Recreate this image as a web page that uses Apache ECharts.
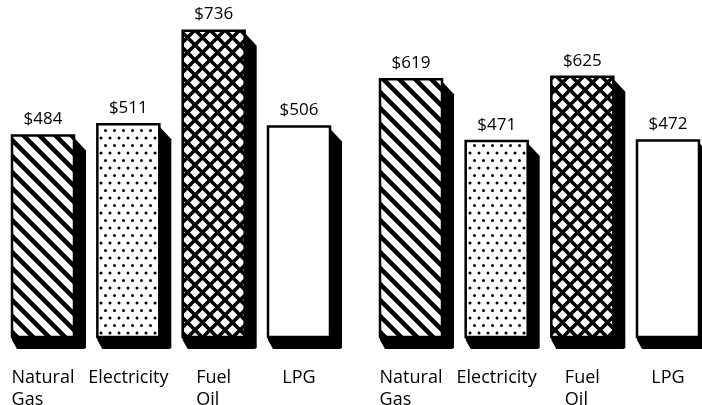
<!DOCTYPE html>
<html>
<head>
<meta charset="utf-8">
<script src="https://cdn.jsdelivr.net/npm/echarts@6/dist/echarts.min.js"></script>
<style>
  html, body { margin: 0; padding: 0; background: #fff; }
  #chart { width: 702px; height: 405px; }
</style>
</head>
<body>
<div id="chart"></div>
<script>
// Heating cost per fuel type, two panels side by side
const fuels = ['Natural\nGas', 'Electricity', 'Fuel\nOil', 'LPG'];
const costsLeft = [484, 511, 736, 506];
const costsRight = [619, 471, 625, 472];

const FONT = '"Open Sans", "DejaVu Sans", sans-serif';

// Tiled fills for the bar faces
function makeTile(w, h, draw) {
  const c = document.createElement('canvas');
  c.width = w; c.height = h;
  const ctx = c.getContext('2d');
  ctx.fillStyle = '#fff';
  ctx.fillRect(0, 0, w, h);
  ctx.fillStyle = '#000';
  ctx.strokeStyle = '#000';
  draw(ctx, w, h);
  return { image: c, repeat: 'repeat' };
}
// diagonal strokes, extended past the tile so the edges join seamlessly
function diag(ctx, s, back, fwd) {
  for (const o of [-s, 0, s]) {
    if (back) { ctx.moveTo(o - s, -s); ctx.lineTo(o + 2 * s, 2 * s); }
    if (fwd) { ctx.moveTo(o + 2 * s, -s); ctx.lineTo(o - s, 2 * s); }
  }
}
const hatch = makeTile(16, 16, (ctx, w) => {
  ctx.lineWidth = 4.6;
  ctx.beginPath(); diag(ctx, w, true, false); ctx.stroke();
});
const dots = makeTile(9, 15, (ctx) => {
  for (const [x, y] of [[2, 3], [6.5, 10.5]]) {
    ctx.beginPath(); ctx.arc(x, y, 1.5, 0, Math.PI * 2); ctx.fill();
  }
});
const cross = makeTile(15, 15, (ctx, w) => {
  ctx.lineWidth = 3.6;
  ctx.beginPath(); diag(ctx, w, true, true); ctx.stroke();
});
const faceFills = [hatch, dots, cross, '#fff'];

const FACE_W = 62;   // width of the front face
const DEPTH_X = 12;  // extrusion to the right
const DEPTH_Y = 12;  // extrusion downward

function renderBar(params, api) {
  const idx = api.value(0);
  const val = api.value(1);
  const topPt = api.coord([idx, val]);
  const basePt = api.coord([idx, 0]);
  const cx = topPt[0];
  const L = cx - FACE_W / 2, R = cx + FACE_W / 2;
  const T = topPt[1], B = basePt[1];
  return {
    type: 'group',
    children: [
      {
        type: 'polygon',
        shape: { points: [
          [R - 2, T], [R + DEPTH_X, T + 15], [R + DEPTH_X, B + DEPTH_Y - 1],
          [R + DEPTH_X - 2, B + DEPTH_Y], [L + 5, B + DEPTH_Y], [L, B + 3], [L, B]
        ] },
        style: { fill: '#000' }
      },
      {
        type: 'rect',
        shape: { x: L, y: T, width: FACE_W, height: B - T },
        style: { fill: faceFills[idx], stroke: '#000', lineWidth: 2.5 }
      },
      {
        type: 'text',
        style: {
          text: '$' + val, x: cx, y: T - 16,
          align: 'center', verticalAlign: 'middle',
          font: '17px ' + FONT, fill: '#000'
        }
      }
    ]
  };
}

// x positions: one unit per fuel, ticks at the bar centres
function fuelAxis(gridIndex) {
  return {
    type: 'value', gridIndex, min: 0, max: 3, interval: 1,
    splitLine: { show: false },
    axisLine: { show: false }, axisTick: { show: false },
    axisLabel: {
      margin: 30, showMinLabel: true, showMaxLabel: true,
      formatter: (v) => fuels[v].split('\n').map(s => '{l|' + s + '}').join('\n'),
      rich: { l: { align: 'left', fontFamily: FONT, fontSize: 18, lineHeight: 22, color: '#000' } }
    }
  };
}
function costAxis(gridIndex) {
  return { type: 'value', gridIndex, min: 0, max: 800, show: false, splitLine: { show: false } };
}
function barSeries(i, values) {
  return {
    type: 'custom', xAxisIndex: i, yAxisIndex: i,
    renderItem: renderBar, clip: false,
    encode: { x: 0, y: 1 },
    data: values.map((v, k) => [k, v])
  };
}

const chart = echarts.init(document.getElementById('chart'), null, { renderer: 'canvas' });
chart.setOption({
  animation: false,
  backgroundColor: '#fff',
  grid: [
    { left: 43, width: 256, top: 4, bottom: 68, containLabel: false, outerBoundsMode: 'none' },
    { left: 411, width: 257, top: 4, bottom: 68, containLabel: false, outerBoundsMode: 'none' }
  ],
  xAxis: [fuelAxis(0), fuelAxis(1)],
  yAxis: [costAxis(0), costAxis(1)],
  series: [barSeries(0, costsLeft), barSeries(1, costsRight)]
});
</script>
</body>
</html>
